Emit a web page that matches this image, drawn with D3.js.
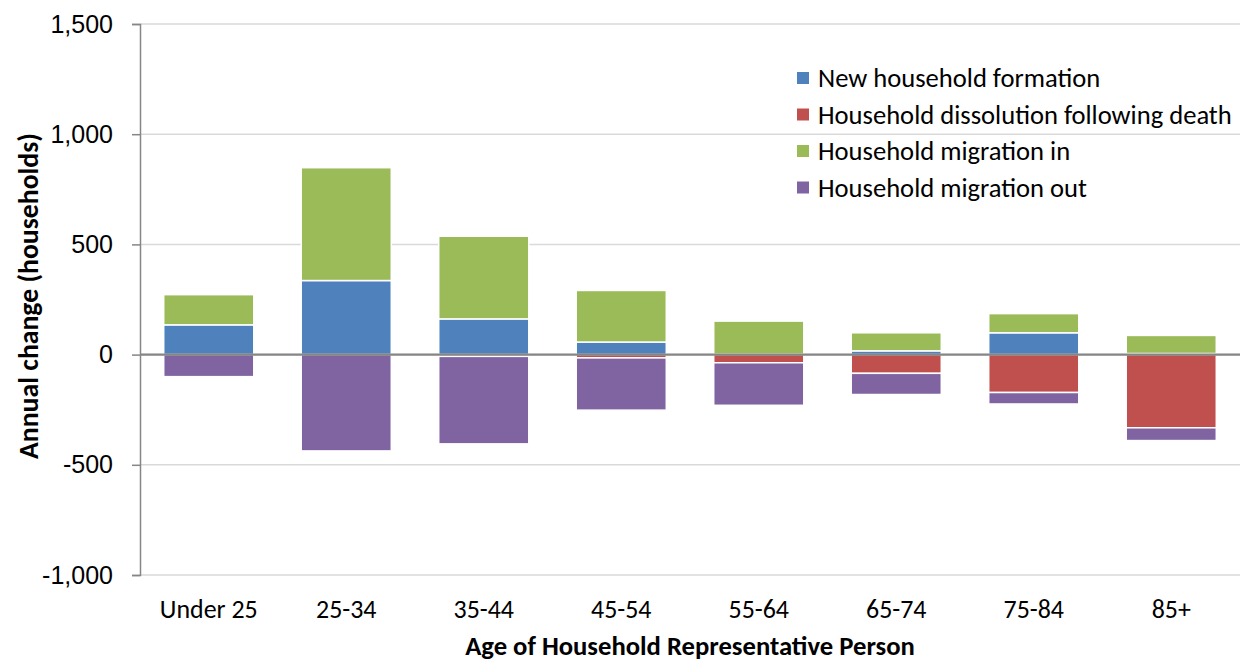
<!DOCTYPE html>
<html>
<head>
<meta charset="utf-8">
<script src="https://cdn.jsdelivr.net/npm/d3@7"></script>
<style>
  html, body { margin: 0; padding: 0; background: #fff; }
  svg { display: block; font-family: Carlito, "Open Sans", Lato, sans-serif; }
</style>
</head>
<body>
<svg id="chart" width="1240" height="661"></svg>
<script>
const categories = ["Under 25", "25-34", "35-44", "45-54", "55-64", "65-74", "75-84", "85+"];
const seriesNames = ["New household formation", "Household dissolution following death", "Household migration in", "Household migration out"];
const formation = [135, 336, 162, 57, 2, 17, 99, 5];
const death = [0, 0, -8, -15, -37, -85, -172, -332];
const migrationIn = [137, 512, 375, 234, 150, 82, 87, 82];
const migrationOut = [-100, -437, -397, -237, -193, -96, -52, -58];
const yTicks = [-1000, -500, 0, 500, 1000, 1500];
const colors = ["#4F81BD", "#C0504D", "#9BBB59", "#8064A2"];

const seriesValues = [formation, death, migrationIn, migrationOut];

const svg = d3.select("#chart");
const margin = { left: 140, right: 0, top: 24, bottom: 86 };
const W = 1240, H = 661;
const x = d3.scaleBand().domain(categories).range([margin.left, W - margin.right])
  .paddingInner(0.345).paddingOuter(0.1725);
const y = d3.scaleLinear().domain([-1000, 1500]).range([H - margin.bottom, margin.top]);

// fit a group of texts to a target width of a reference string
function fitSize(sample, target, weight) {
  const t = svg.append("text").attr("font-size", 20).attr("font-weight", weight || "normal").text(sample);
  const w = t.node().getComputedTextLength();
  t.remove();
  return 20 * target / w;
}
const tickSize = fitSize("1,500", 57);
const catSize = fitSize("Under 25", 98);
const legSize = fitSize("Household dissolution following death", 414);
const xTitleSize = fitSize("Age of Household Representative Person", 450, "bold");
const yTitleSize = fitSize("Annual change (households)", 326, "bold");

// gridlines
svg.append("g").selectAll("line").data(yTicks).join("line")
  .attr("x1", margin.left).attr("x2", W)
  .attr("y1", d => y(d)).attr("y2", d => y(d))
  .attr("stroke", "#D9D9D9").attr("stroke-width", 1.5);

// y axis
const fmt = d3.format(",");
const yAxis = d3.axisLeft(y).tickValues(yTicks).tickSize(8).tickPadding(19)
  .tickFormat(d => fmt(d).replace("\u2212", "-"));
const yg = svg.append("g").attr("transform", `translate(${margin.left},0)`).call(yAxis);
yg.select(".domain").attr("stroke", "#868686").attr("stroke-width", 1.5);
yg.selectAll(".tick line").attr("stroke", "#868686").attr("stroke-width", 1.5);
yg.selectAll(".tick text").attr("font-size", tickSize).attr("fill", "#000")
  .attr("font-family", null);

// stacked segments (positives and negatives stacked separately)
const segs = [];
categories.forEach((c, i) => {
  let pos = 0, neg = 0;
  seriesValues.forEach((vals, s) => {
    const v = vals[i];
    if (v >= 0) { segs.push({ c, s, y0: pos, y1: pos + v }); pos += v; }
    else { segs.push({ c, s, y0: neg + v, y1: neg }); neg += v; }
  });
});

svg.append("g").selectAll("rect").data(segs.filter(d => d.y1 - d.y0 > 0)).join("rect")
  .attr("x", d => x(d.c))
  .attr("width", x.bandwidth())
  .attr("y", d => y(d.y1))
  .attr("height", d => y(d.y0) - y(d.y1))
  .attr("fill", d => colors[d.s])
  .attr("stroke", "#fff").attr("stroke-width", 1.5);

// zero line
svg.append("line").attr("x1", margin.left).attr("x2", W)
  .attr("y1", y(0)).attr("y2", y(0))
  .attr("stroke", "#868686").attr("stroke-width", 2.2);

// x labels
svg.append("g").selectAll("text").data(categories).join("text")
  .attr("x", d => x(d) + x.bandwidth() / 2)
  .attr("y", 618)
  .attr("text-anchor", "middle")
  .attr("font-size", catSize)
  .text(d => d);

// axis titles
svg.append("text").attr("x", 690).attr("y", 655).attr("text-anchor", "middle")
  .attr("font-size", xTitleSize).attr("font-weight", "bold")
  .text("Age of Household Representative Person");
svg.append("text").attr("transform", "translate(38,296) rotate(-90)")
  .attr("text-anchor", "middle").attr("font-size", yTitleSize).attr("font-weight", "bold")
  .text("Annual change (households)");

// legend
const lg = svg.append("g").attr("transform", "translate(797,78)");
const items = lg.selectAll("g").data(seriesNames).join("g")
  .attr("transform", (d, i) => `translate(0,${i * 36.5})`);
items.append("rect").attr("x", 0).attr("y", -6).attr("width", 12).attr("height", 12)
  .attr("fill", (d, i) => colors[i]);
items.append("text").attr("x", 21).attr("y", 0).attr("dy", "0.35em")
  .attr("font-size", legSize).text(d => d);
</script>
</body>
</html>
